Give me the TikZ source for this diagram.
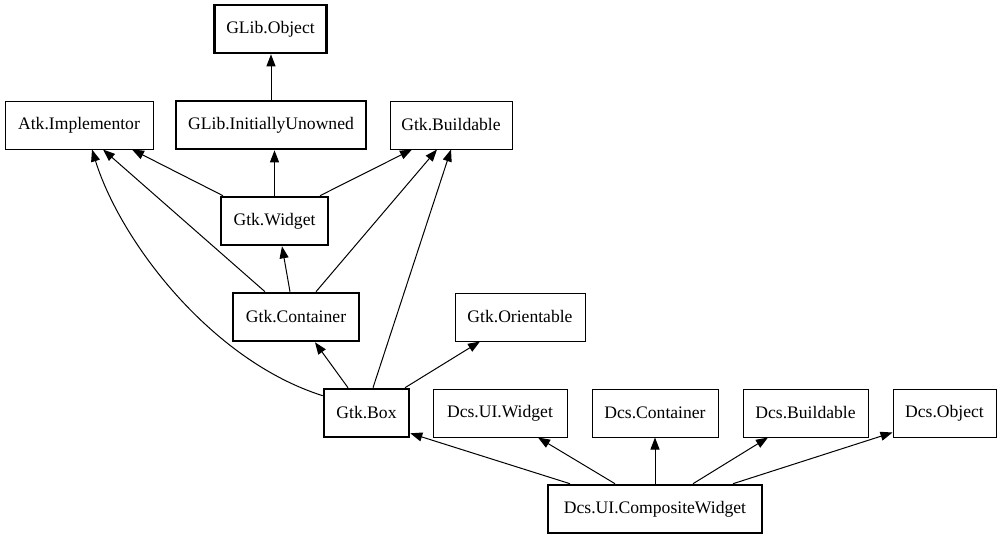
\documentclass[tikz,border=0pt]{standalone}
\usepackage{fontspec}
\setmainfont{Liberation Serif}
\usetikzlibrary{arrows.meta}
\tikzset{
  cls/.style={draw, line width=1pt, minimum height=48pt, inner sep=0pt, font=\fontsize{17.6}{20}\selectfont},
  thickcls/.style={cls, line width=2.6pt},
  inh/.style={line width=1pt, -{Triangle[length=12pt,width=9pt]}},
}
\begin{document}
\begin{tikzpicture}[x=1pt,y=-1pt]
\useasboundingbox (0,0) rectangle (1001,539);
% nodes
\node[thickcls, minimum width=112pt] (obj) at (270.5,29) {GLib.Object};
\node[cls, minimum width=148pt] (atk) at (79,125) {Atk.Implementor};
\node[thickcls, minimum width=190pt] (iu) at (271,125) {GLib.InitiallyUnowned};
\node[cls, minimum width=122pt] (gbuild) at (451,125) {Gtk.Buildable};
\node[thickcls, minimum width=107pt] (widget) at (274.5,221) {Gtk.Widget};
\node[thickcls, minimum width=126pt] (cont) at (296,317) {Gtk.Container};
\node[cls, minimum width=130pt] (orient) at (520,317) {Gtk.Orientable};
\node[thickcls, minimum width=85pt] (box) at (366.5,413) {Gtk.Box};
\node[cls, minimum width=134pt] (dwidget) at (500,413) {Dcs.UI.Widget};
\node[cls, minimum width=126pt] (dcont) at (655,413) {Dcs.Container};
\node[cls, minimum width=125pt] (dbuild) at (805.5,413) {Dcs.Buildable};
\node[cls, minimum width=103pt] (dobj) at (944.5,413) {Dcs.Object};
\node[thickcls, minimum width=214pt] (comp) at (655,509) {Dcs.UI.CompositeWidget};
% edges
\draw[inh] (iu.north) -- (iu.north |- obj.south);
\draw[inh] (widget.north) -- (widget.north |- iu.south);
\draw[inh] ([xshift=-51.5pt]widget.north) -- ([xshift=53pt]atk.south);
\draw[inh] ([xshift=45.5pt]widget.north) -- ([xshift=-39pt]gbuild.south);
\draw[inh] ([xshift=-31pt]cont.north) -- ([xshift=24pt]atk.south);
\draw[inh] ([xshift=-6pt]cont.north) -- ([xshift=7.5pt]widget.south);
\draw[inh] ([xshift=20pt]cont.north) -- ([xshift=-14pt]gbuild.south);
\draw[inh] ([xshift=-18.5pt]box.north) -- ([xshift=19pt]cont.south);
\draw[inh] ([yshift=-8pt]box.north west) .. controls (210,360) and (120,240) .. ([xshift=13pt]atk.south);
\draw[inh] ([xshift=6.5pt]box.north) -- (gbuild.south);
\draw[inh] ([xshift=38.5pt]box.north) -- ([xshift=-40pt]orient.south);
\draw[inh] ([xshift=-85pt]comp.north) -- ([yshift=5pt]box.south east);
\draw[inh] ([xshift=-40pt]comp.north) -- ([xshift=38pt]dwidget.south);
\draw[inh] (comp.north) -- (dcont.south);
\draw[inh] ([xshift=38pt]comp.north) -- ([xshift=-37.5pt]dbuild.south);
\draw[inh] ([xshift=78pt]comp.north) -- ([yshift=5pt]dobj.south west);
\end{tikzpicture}
\end{document}
